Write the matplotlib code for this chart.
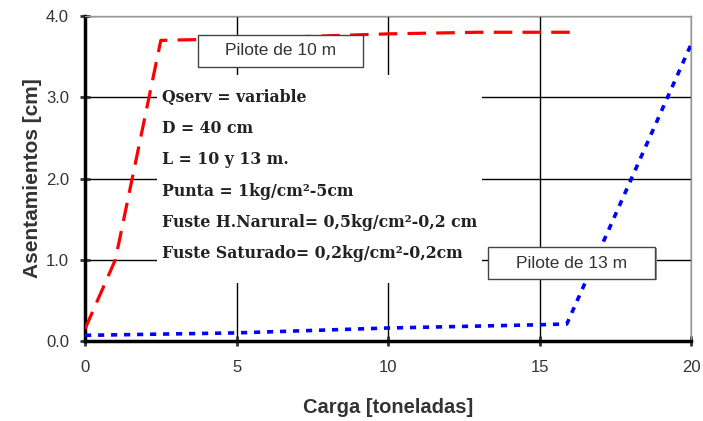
import matplotlib.pyplot as plt
from matplotlib.patches import Rectangle

# Pilote de 10 m
x10 = [0, 1, 2.5, 5, 10, 13, 16]
y10 = [0.15, 1.0, 3.7, 3.72, 3.78, 3.8, 3.8]
# Pilote de 13 m
x13 = [0, 5, 10, 15, 15.9, 20]
y13 = [0.07, 0.1, 0.16, 0.2, 0.21, 3.65]

xticks = [0, 5, 10, 15, 20]
yticks = [0, 1, 2, 3, 4]

info = ["Qserv = variable", "D = 40 cm", "L = 10 y 13 m.", "Punta = 1kg/cm\u00b2-5cm",
        "Fuste H.Narural= 0,5kg/cm\u00b2-0,2 cm", "Fuste Saturado= 0,2kg/cm\u00b2-0,2cm"]

plt.rcParams['font.family'] = ['Liberation Sans', 'DejaVu Sans']
fig = plt.figure(figsize=(7.03, 4.21), dpi=100)
ax = fig.add_axes([0.121, 0.190, 0.862, 0.772])

ax.plot(x10, y10, color="#ff0000", lw=2.3, dashes=(5.8, 3.2), zorder=3)
ax.plot(x13, y13, color="#0000ff", lw=2.6, dashes=(1.7, 1.9), zorder=3)

ax.set_xlim(0, 20)
ax.set_ylim(0, 4)
ax.set_xticks(xticks)
ax.set_yticks(yticks)
ax.set_yticklabels([f"{v:.1f}" for v in yticks])
ax.tick_params(direction="inout", length=7, width=2, labelsize=12, colors="#333333")
ax.tick_params(axis="x", pad=10)
ax.tick_params(axis="y", pad=8)
ax.grid(True, color="black", lw=1)
ax.set_axisbelow(True)
for s in ["left", "bottom"]:
    ax.spines[s].set_linewidth(2.5)
    ax.spines[s].set_color("black")
for s in ["top", "right"]:
    ax.spines[s].set_linewidth(1)
    ax.spines[s].set_color("#999999")

# white area behind the notes
ax.add_patch(Rectangle((2.38, 0.71), 10.72, 2.56, facecolor="white", edgecolor="none", zorder=1))
for i, t in enumerate(info):
    ax.text(2.54, 3.0 - i * 0.385, t, fontsize=11.3, family="DejaVu Serif", fontweight="bold",
            color="#222222", va="center", ha="left", zorder=4)

# label boxes
for (bx, by, bw, bh, label) in [(3.73, 3.37, 5.44, 0.40, "Pilote de 10 m"),
                               (13.3, 0.763, 5.51, 0.394, "Pilote de 13 m")]:
    ax.add_patch(Rectangle((bx + 0.05, by - 0.015), bw, bh, facecolor="#999999", edgecolor="none", zorder=4))
    ax.add_patch(Rectangle((bx, by), bw, bh, facecolor="white", edgecolor="#444444", lw=1, zorder=5))
    ax.text(bx + bw / 2, by + bh / 2, label, fontsize=12.5, ha="center", va="center",
            color="#333333", zorder=6)

ax.set_xlabel("Carga [toneladas]", fontsize=14.5, fontweight="bold", color="#333333", labelpad=17)
ax.set_ylabel("Asentamientos [cm]", fontsize=15, fontweight="bold", color="#333333", labelpad=3)

fig.savefig("out.png")
